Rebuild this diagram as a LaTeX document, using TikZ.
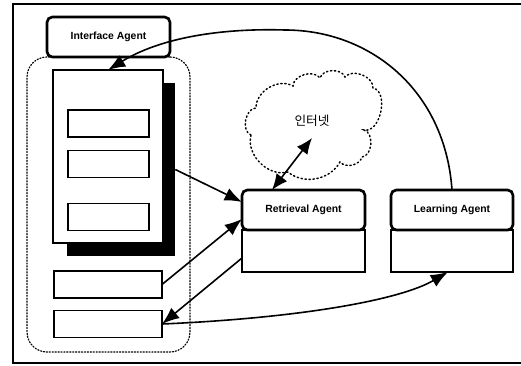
\documentclass[tikz,border=0pt]{standalone}
\usepackage{fontspec}
\setmainfont{Liberation Sans}
\newfontfamily\krfont{Noto Sans CJK KR}
\usetikzlibrary{arrows.meta,calc}
\tikzset{
  agenthead/.style={draw, line width=2pt, rounded corners=4pt, fill=white, inner sep=0pt, outer sep=0pt,
    minimum width=#1, minimum height=30pt, font=\fontsize{7.8}{9}\selectfont\bfseries},
  agentbody/.style={draw, line width=1pt, fill=white, inner sep=0pt, outer sep=0pt, minimum width=#1, minimum height=31.5pt},
  plainbox/.style={draw, line width=1.1pt, fill=white, inner sep=0pt, outer sep=0pt},
  dotline/.style={line width=0.9pt, dash pattern=on 0.9pt off 1.3pt, line cap=round},
  clouddots/.style={line width=1.1pt, dash pattern=on 1pt off 2pt, line cap=round},
  conn/.style={line width=1.2pt, -{Latex[length=13pt,width=10pt]}},
  bothconn/.style={line width=1.2pt, {Latex[length=12pt,width=10pt]}-{Latex[length=12pt,width=10pt]}},
}
\begin{document}
\begin{tikzpicture}[x=0.75pt,y=-0.75pt]
\useasboundingbox (0,0) rectangle (521,365);
% outer frame
\draw[line width=1pt] (521,4) -- (13,4) -- (13,363) -- (521,363);
% dotted region
\node[draw, dotline, rounded corners=15pt, minimum width=122.25pt, minimum height=221.25pt, inner sep=0pt] (region) at (108.5,204.5) {};
% shadow and panel
\node[fill=black, inner sep=0pt, minimum width=81pt, minimum height=129.75pt] (shadow) at (121,169.5) {};
\node[plainbox, minimum width=82.5pt, minimum height=129.75pt] (panel) at (108,156.5) {};
\node[plainbox, minimum width=60.75pt, minimum height=20.25pt] (ib1) at (108.5,123.5) {};
\node[plainbox, minimum width=60.75pt, minimum height=20.25pt] (ib2) at (108.5,164) {};
\node[plainbox, minimum width=60.75pt, minimum height=20.25pt] (ib3) at (108.5,217) {};
\node[plainbox, minimum width=81pt, minimum height=20.5pt] (lb1) at (108,284.5) {};
\node[plainbox, minimum width=81pt, minimum height=20.5pt] (lb2) at (108,324) {};
% interface agent
\node[agenthead=92.25pt] (ia) at (108.5,37) {Interface Agent};
% cloud
\draw[clouddots] (251,135) to[bend left=80] (256,108) to[bend left=60] (293,86)
  to[bend left=70] (320,78) to[bend left=70] (345,77) to[bend left=70] (373,88)
  to[bend left=90] (364,130) to[bend left=80] (362,157) to[bend left=60] (340,162)
  to[bend left=50] (288,172) to[bend left=60] (251,135) -- cycle;
\node[font=\krfont\fontsize{9.5}{10}\selectfont] (net) at (312,121) {인터넷};
\coordinate (cloudtip) at (312,138);
% retrieval agent
\node[agentbody=92.25pt] (rb) at (303.5,251) {};
\node[agenthead=92.25pt] (rh) at (303.5,210) {Retrieval Agent};
% learning agent
\node[agentbody=91.5pt] (lbx) at (452,251) {};
\node[agenthead=91.5pt] (lh) at (452,210) {Learning Agent};
% connectors
\draw[conn] (lh.north) .. controls (445,90) and (370,30) .. (285,30)
  .. controls (220,28) and (160,38) .. (panel.north);
\draw[conn] (shadow.east) -- ($(rh.west)+(0,-8)$);
\draw[conn] (lb1.east) -- ($(rh.west)+(0,9)$);
\draw[conn] ($(rb.west)+(0,7)$) -- (lb2.east);
\draw[conn] (lb2.east) .. controls (300,318) and (400,300) .. ($(lbx.south)+(-4,0)$);
\draw[bothconn] ($(rh.north)+(-31.5,0)$) -- (cloudtip);
\end{tikzpicture}
\end{document}
